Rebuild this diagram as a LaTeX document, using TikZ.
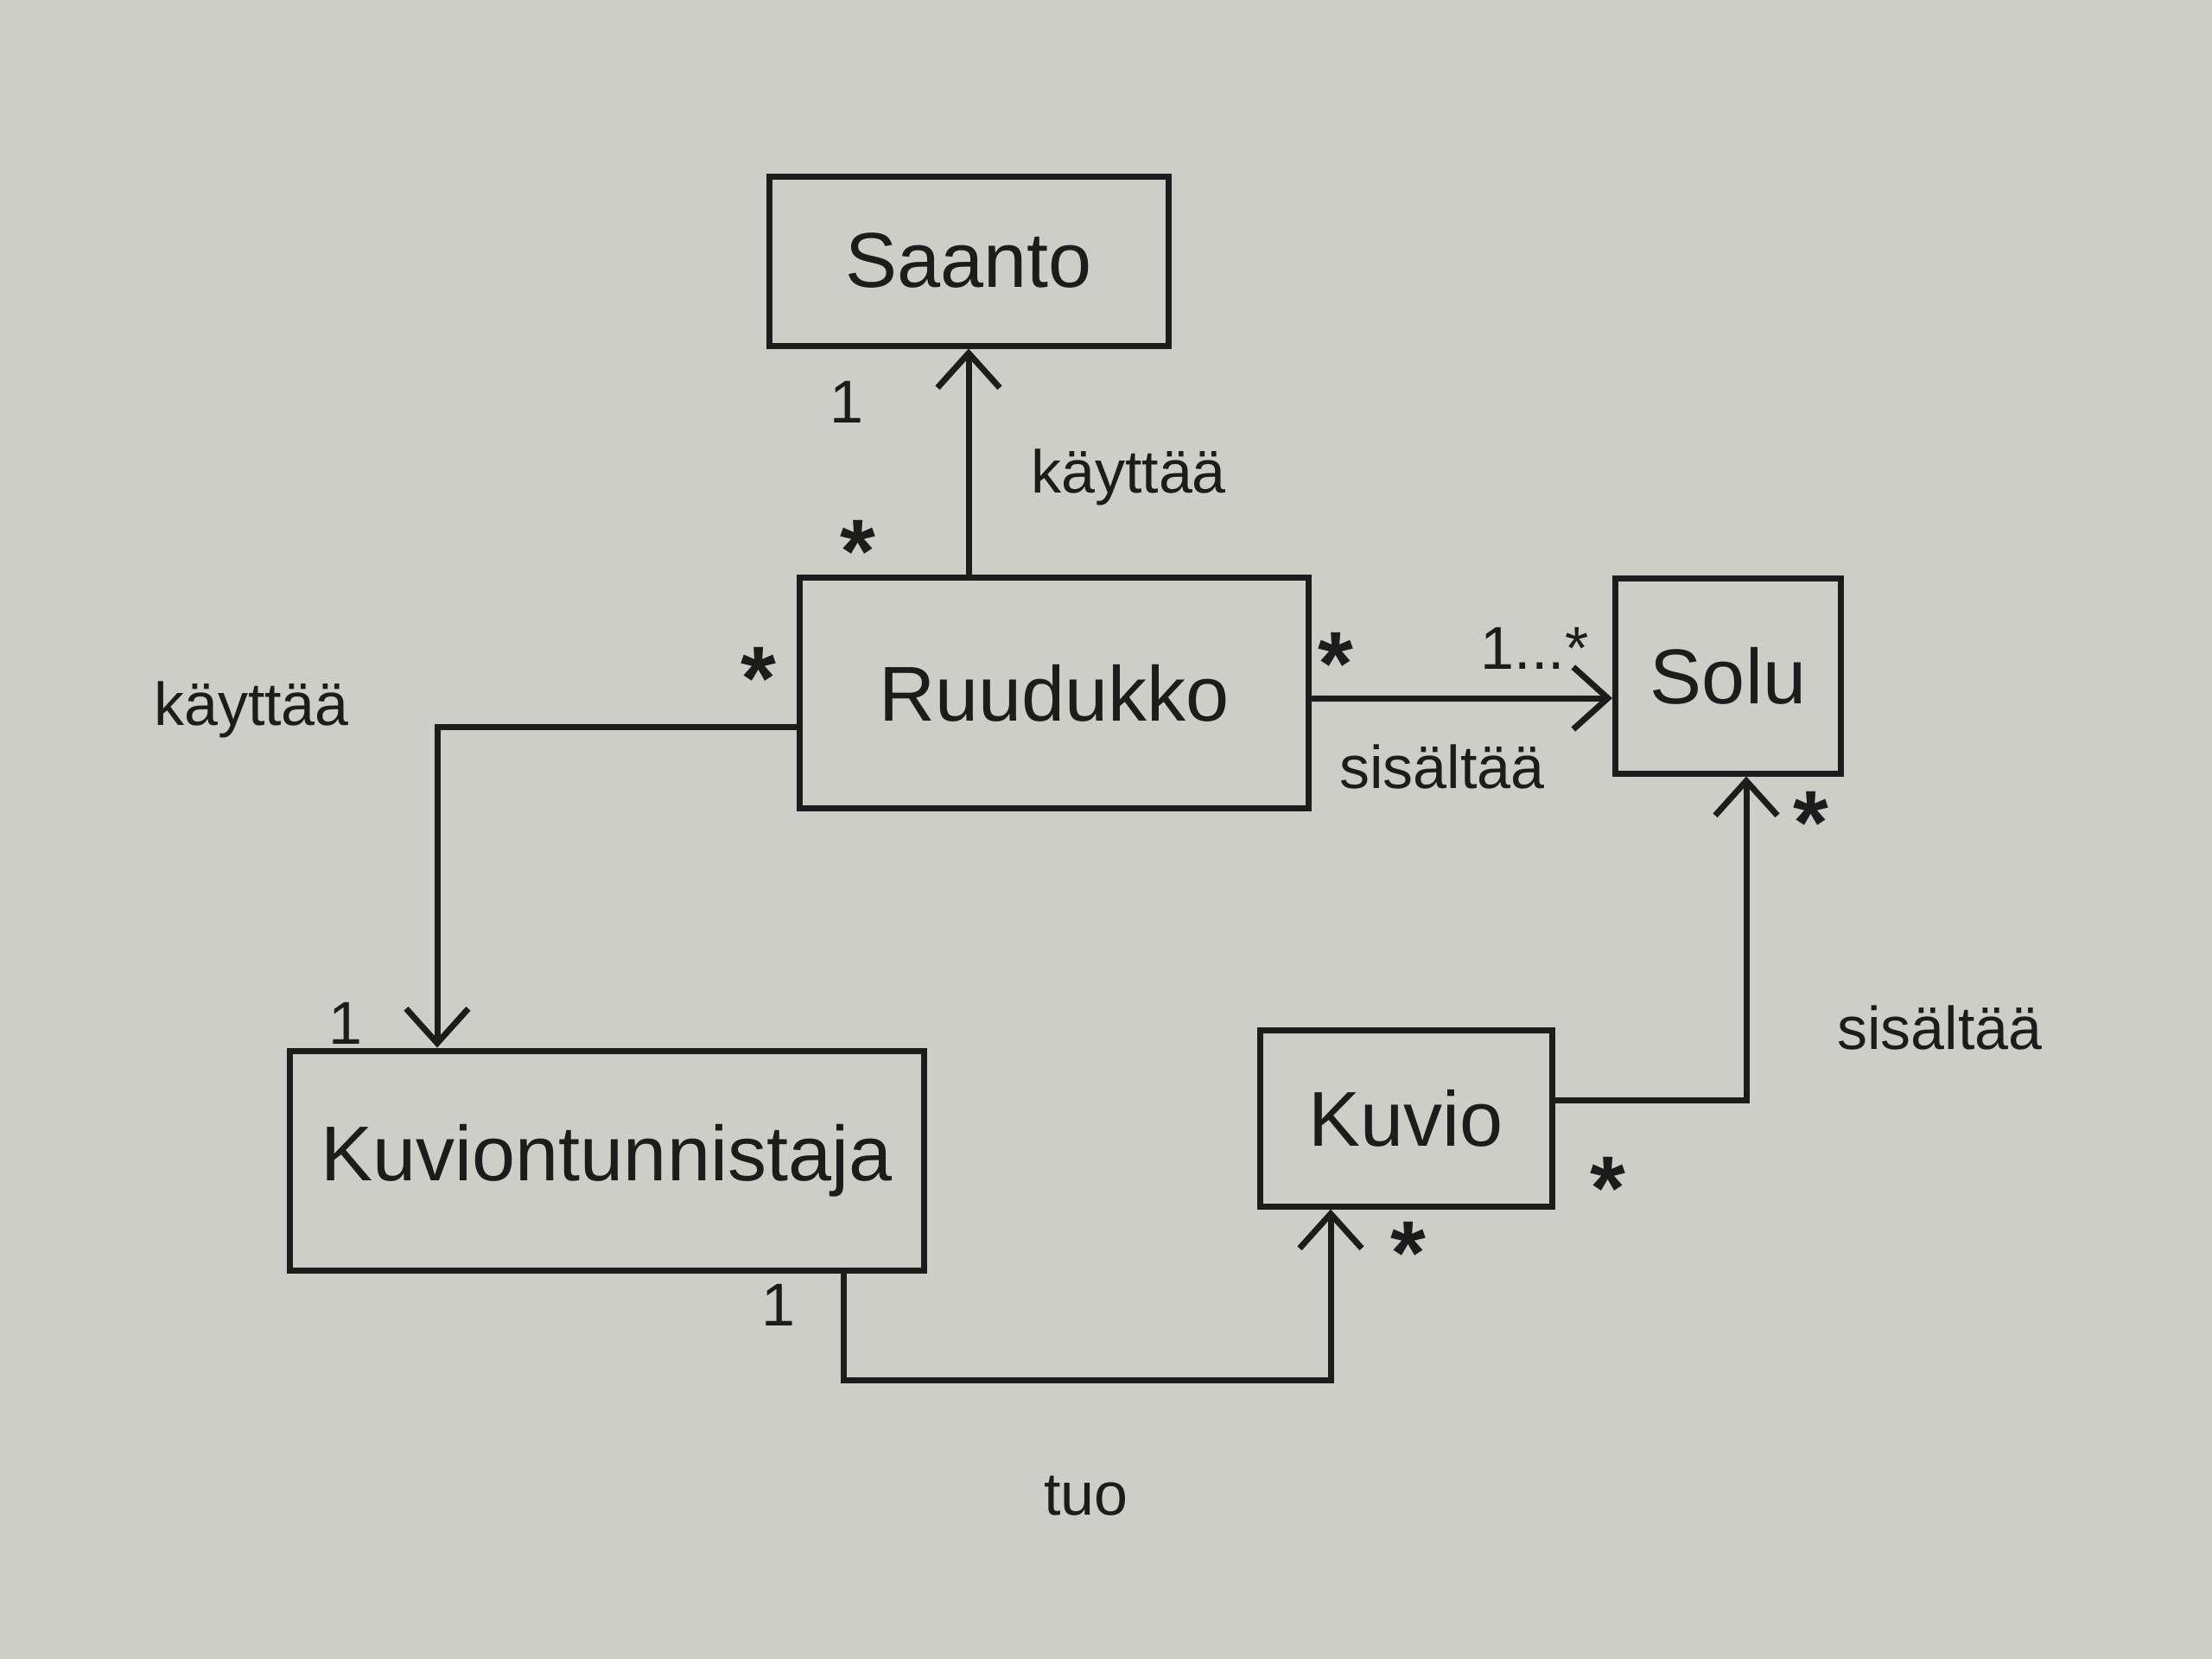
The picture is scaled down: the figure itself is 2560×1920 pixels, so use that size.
\documentclass[tikz,border=0pt]{standalone}
\usepackage{fontspec}
\setmainfont{Liberation Sans}
\usetikzlibrary{arrows.meta}
\definecolor{paper}{RGB}{206,206,200}
\definecolor{ink}{RGB}{28,28,28}
\newcommand{\mystar}{\raisebox{-0.28em}{*}}
\begin{document}
\begin{tikzpicture}[x=1pt,y=-1pt,
  cls/.style={draw=ink,line width=7pt,inner sep=0pt,font=\fontsize{90}{100}\selectfont,text=ink},
  assoc/.style={draw=ink,line width=7pt,-{Straight Barb[length=40pt,width=72pt,line width=7pt]}},
  lbl/.style={font=\fontsize{70}{80}\selectfont,text=ink,inner sep=0pt},
  mult/.style={font=\fontsize{70}{80}\selectfont,text=ink,inner sep=0pt},
  starm/.style={font=\fontsize{105}{110}\selectfont\bfseries,text=ink,inner sep=0pt}]
\fill[paper] (0,0) rectangle (2560,1920);
\useasboundingbox (0,0) rectangle (2560,1920);
% classes
\node[cls,minimum width=462pt,minimum height=196pt] (saanto) at (1121,302) {Saanto};
\node[cls,minimum width=589pt,minimum height=267pt] (ruud) at (1220,802) {Ruudukko};
\node[cls,minimum width=261pt,minimum height=226pt] (solu) at (2000,782) {Solu};
\node[cls,minimum width=734pt,minimum height=254pt] (kt) at (702,1343) {Kuviontunnistaja};
\node[cls,minimum width=338pt,minimum height=204pt] (kuvio) at (1627,1294) {Kuvio};
% routing points
\coordinate (c2) at (506,841);
\coordinate (c3) at (0,808);
\coordinate (c4) at (2021,1273);
\coordinate (c5a) at (976,0);
\coordinate (c5b) at (1540,1597);
% connectors
\draw[assoc] (ruud.north -| saanto.south) -- (saanto.south);
\draw[assoc] (ruud.west |- c2) -| (kt.north -| c2);
\draw[assoc] (ruud.east |- c3) -- (solu.west |- c3);
\draw[assoc] (kuvio.east |- c4) -| (solu.south -| c4);
\draw[assoc] (kt.south -| c5a) |- (c5b) -- (kuvio.south -| c5b);
% labels
\node[mult] (m1) at (980,465) {1};
\node[lbl] (l1) at (1306,552) {käyttää};
\node[starm] (m2) at (993,638) {\mystar};
\node[lbl] (l2) at (291,821) {käyttää};
\node[starm] (m3) at (878,785) {\mystar};
\node[starm] (m4) at (1546,768) {\mystar};
\node[mult] (m5) at (1776,750) {1...*};
\node[lbl] (l3) at (1669,887) {sisältää};
\node[starm] (m6) at (2096,952) {\mystar};
\node[mult] (m7) at (400,1184) {1};
\node[lbl] (l4) at (2245,1189) {sisältää};
\node[starm] (m8) at (1861,1375) {\mystar};
\node[starm] (m9) at (1630,1450) {\mystar};
\node[mult] (m10) at (901,1510) {1};
\node[lbl] (l5) at (1257,1731) {tuo};
\end{tikzpicture}
\end{document}
